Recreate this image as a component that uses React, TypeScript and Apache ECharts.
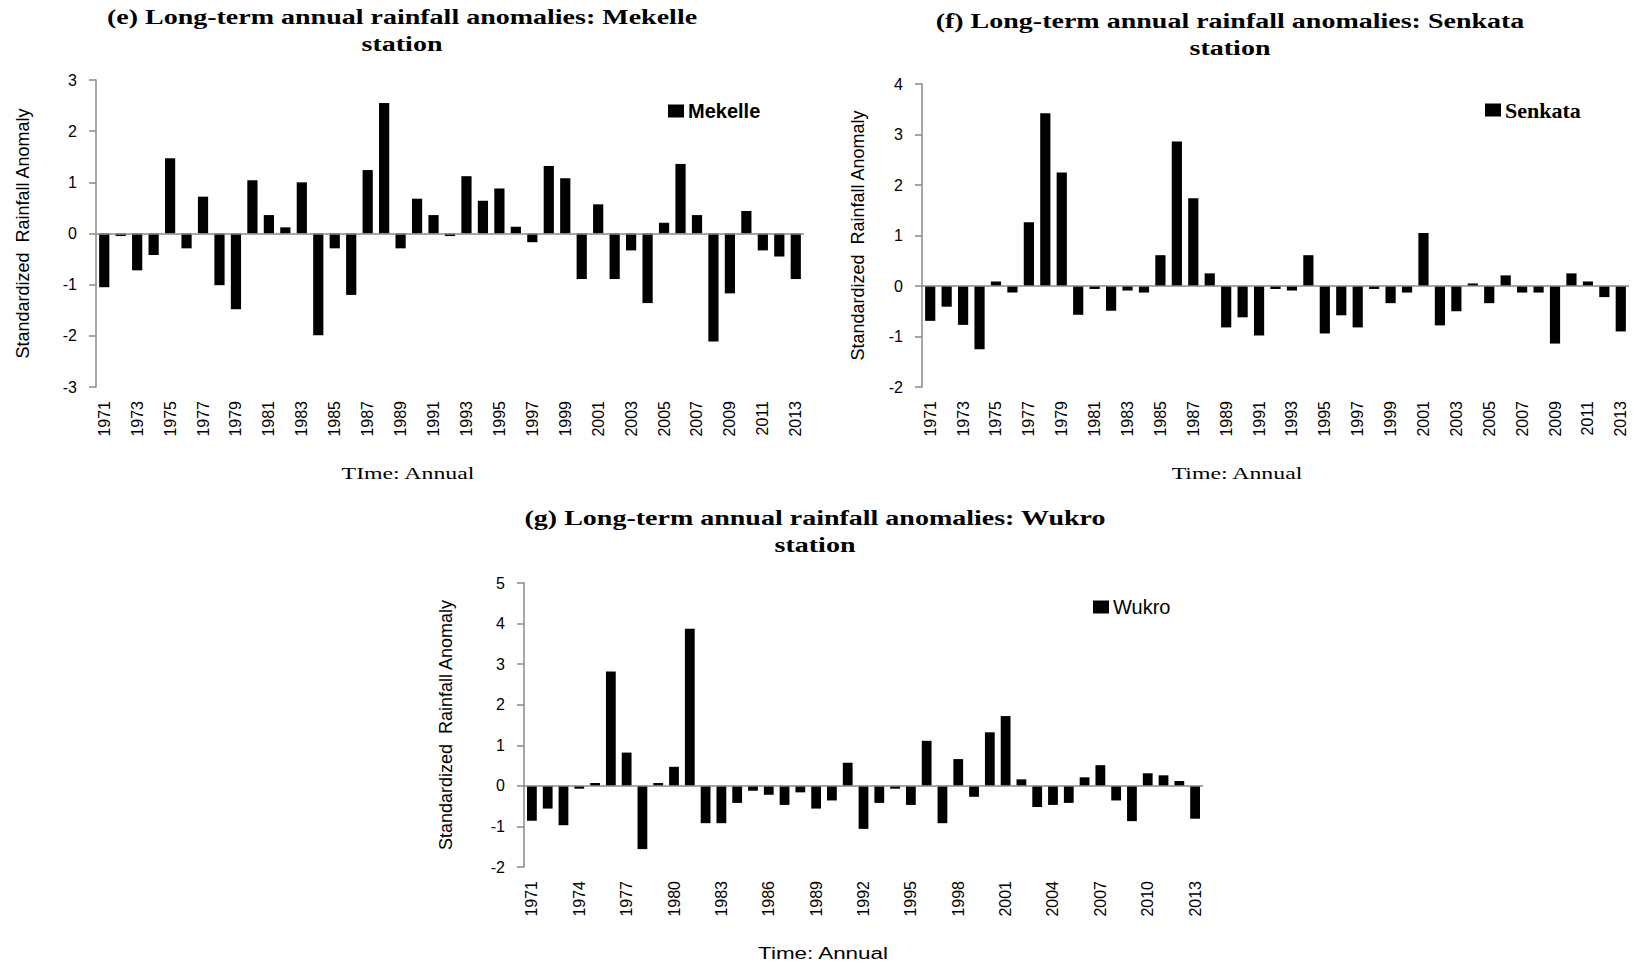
import React, { useEffect, useRef } from "react";
import * as echarts from "echarts";

const years = [
  "1971","1972","1973","1974","1975","1976","1977","1978","1979","1980",
  "1981","1982","1983","1984","1985","1986","1987","1988","1989","1990",
  "1991","1992","1993","1994","1995","1996","1997","1998","1999","2000",
  "2001","2002","2003","2004","2005","2006","2007","2008","2009","2010",
  "2011","2012","2013",
];

const mekelle = [
  -1.05, -0.05, -0.72, -0.42, 1.47, -0.29, 0.72, -1.01, -1.48, 1.04,
  0.36, 0.12, 1.0, -1.99, -0.29, -1.2, 1.24, 2.55, -0.29, 0.68,
  0.36, -0.05, 1.12, 0.64, 0.88, 0.13, -0.17, 1.32, 1.08, -0.89,
  0.57, -0.89, -0.33, -1.36, 0.21, 1.36, 0.36, -2.11, -1.17, 0.44,
  -0.33, -0.45, -0.89,
];

const senkata = [
  -0.69, -0.41, -0.77, -1.25, 0.09, -0.13, 1.26, 3.42, 2.25, -0.57,
  -0.06, -0.49, -0.09, -0.13, 0.61, 2.86, 1.74, 0.25, -0.82, -0.62,
  -0.98, -0.06, -0.09, 0.61, -0.94, -0.58, -0.82, -0.06, -0.34, -0.13,
  1.05, -0.78, -0.5, 0.05, -0.34, 0.21, -0.13, -0.13, -1.14, 0.25,
  0.09, -0.22, -0.9,
];

const wukro = [
  -0.86, -0.56, -0.97, -0.07, 0.07, 2.82, 0.82, -1.56, 0.07, 0.47,
  3.87, -0.92, -0.92, -0.42, -0.12, -0.22, -0.47, -0.16, -0.56, -0.36,
  0.57, -1.06, -0.42, -0.07, -0.47, 1.11, -0.92, 0.66, -0.27, 1.32,
  1.72, 0.16, -0.52, -0.47, -0.42, 0.21, 0.51, -0.36, -0.87, 0.31,
  0.26, 0.12, -0.81,
];

const titles = [
  "(e) Long-term annual rainfall anomalies: Mekelle\nstation",
  "(f) Long-term annual rainfall anomalies: Senkata\nstation",
  "(g) Long-term annual rainfall anomalies: Wukro\nstation",
];
const stationNames = ["Mekelle", "Senkata", "Wukro"];
const yName = "Standardized  Rainfall Anomaly";
const xNames = ["TIme: Annual", "Time: Annual", "Time: Annual"];

const SANS = "'Liberation Sans', Arial, sans-serif";
const SERIF = "'Liberation Serif', 'Times New Roman', serif";
const AXIS_GRAY = "#8a8a8a";

export default function App() {
  const ref = useRef<HTMLDivElement>(null);

  useEffect(() => {
    if (!ref.current) return;
    const chart = echarts.init(ref.current, null, { renderer: "svg" });

    const grids = [
      { left: 96, top: 80, width: 708, height: 307 },
      { left: 922, top: 84, width: 707, height: 303 },
      { left: 524, top: 583, width: 679, height: 284 },
    ];
    const yRanges = [
      [-3, 3],
      [-2, 4],
      [-2, 5],
    ];
    const labelIntervals = [1, 1, 2];
    const yNameGaps = [64, 55, 69];
    const data = [mekelle, senkata, wukro];

    const xAxis = grids.map((_, i) => ({
      type: "category",
      gridIndex: i,
      data: years,
      axisLine: { show: false, onZero: false },
      axisTick: { show: false },
      axisLabel: {
        rotate: 90,
        interval: labelIntervals[i],
        margin: 14,
        color: "#000",
        fontSize: 16,
        fontFamily: SANS,
      },
    }));

    const yAxis = grids.map((_, i) => ({
      type: "value",
      gridIndex: i,
      min: yRanges[i][0],
      max: yRanges[i][1],
      interval: 1,
      axisLine: { show: true, lineStyle: { color: AXIS_GRAY, width: 1.5 } },
      axisTick: { show: true, length: 7, lineStyle: { color: AXIS_GRAY, width: 1.5 } },
      splitLine: { show: false },
      axisLabel: { color: "#000", fontSize: 16, fontFamily: SANS, margin: 19 },
      name: yName,
      nameLocation: "middle",
      nameGap: yNameGaps[i],
      nameTextStyle: { color: "#000", fontSize: 18, fontFamily: SANS },
    }));

    const series = data.map((d, i) => ({
      type: "bar",
      name: stationNames[i],
      xAxisIndex: i,
      yAxisIndex: i,
      data: d,
      barCategoryGap: "38%",
      itemStyle: { color: "#000" },
      markLine: {
        silent: true,
        symbol: "none",
        label: { show: false },
        lineStyle: { color: AXIS_GRAY, width: 1.5, type: "solid" },
        data: [{ yAxis: 0 }],
      },
    }));

    const legends = [
      { left: 668, top: 101, font: SANS, weight: "bold", size: 20 },
      { left: 1485, top: 99, font: SERIF, weight: "bold", size: 22 },
      { left: 1093, top: 597, font: SANS, weight: "normal", size: 20 },
    ].map((l, i) => ({
      data: [stationNames[i]],
      left: l.left,
      top: l.top,
      padding: 0,
      itemWidth: 16,
      itemHeight: 13,
      itemGap: 4,
      icon: "rect",
      textStyle: {
        color: "#000",
        fontFamily: l.font,
        fontWeight: l.weight,
        fontSize: l.size,
        padding: [0, 0, 0, -1],
      },
    }));

    const titlePos = [
      { x: 402, y: 4 },
      { x: 1230, y: 8 },
      { x: 815, y: 505 },
    ];

    const titleGraphics = titles.map((t, i) => ({
      type: "text",
      x: titlePos[i].x,
      y: titlePos[i].y,
      scaleX: 1.4,
      style: {
        text: t,
        align: "center",
        verticalAlign: "top",
        fill: "#000",
        font: `bold 20px ${SERIF}`,
        lineHeight: 27,
      },
    }));

    const xNamePos = [
      { x: 408, y: 473, font: SERIF, size: 17 },
      { x: 1237, y: 473, font: SERIF, size: 17 },
      { x: 823, y: 953, font: SANS, size: 16 },
    ];
    const xNameGraphics = xNames.map((t, i) => ({
      type: "text",
      x: xNamePos[i].x,
      y: xNamePos[i].y,
      scaleX: 1.4,
      style: {
        text: t,
        align: "center",
        verticalAlign: "middle",
        fill: "#000",
        font: `${xNamePos[i].size}px ${xNamePos[i].font}`,
      },
    }));

    chart.setOption({
      animation: false,
      backgroundColor: "#fff",
      grid: grids,
      xAxis,
      yAxis,
      series,
      legend: legends,
      graphic: [...titleGraphics, ...xNameGraphics],
    });

    return () => chart.dispose();
  }, []);

  return (
    <div
      ref={ref}
      style={{ position: "fixed", left: 0, top: 0, width: 1637, height: 966 }}
    />
  );
}
